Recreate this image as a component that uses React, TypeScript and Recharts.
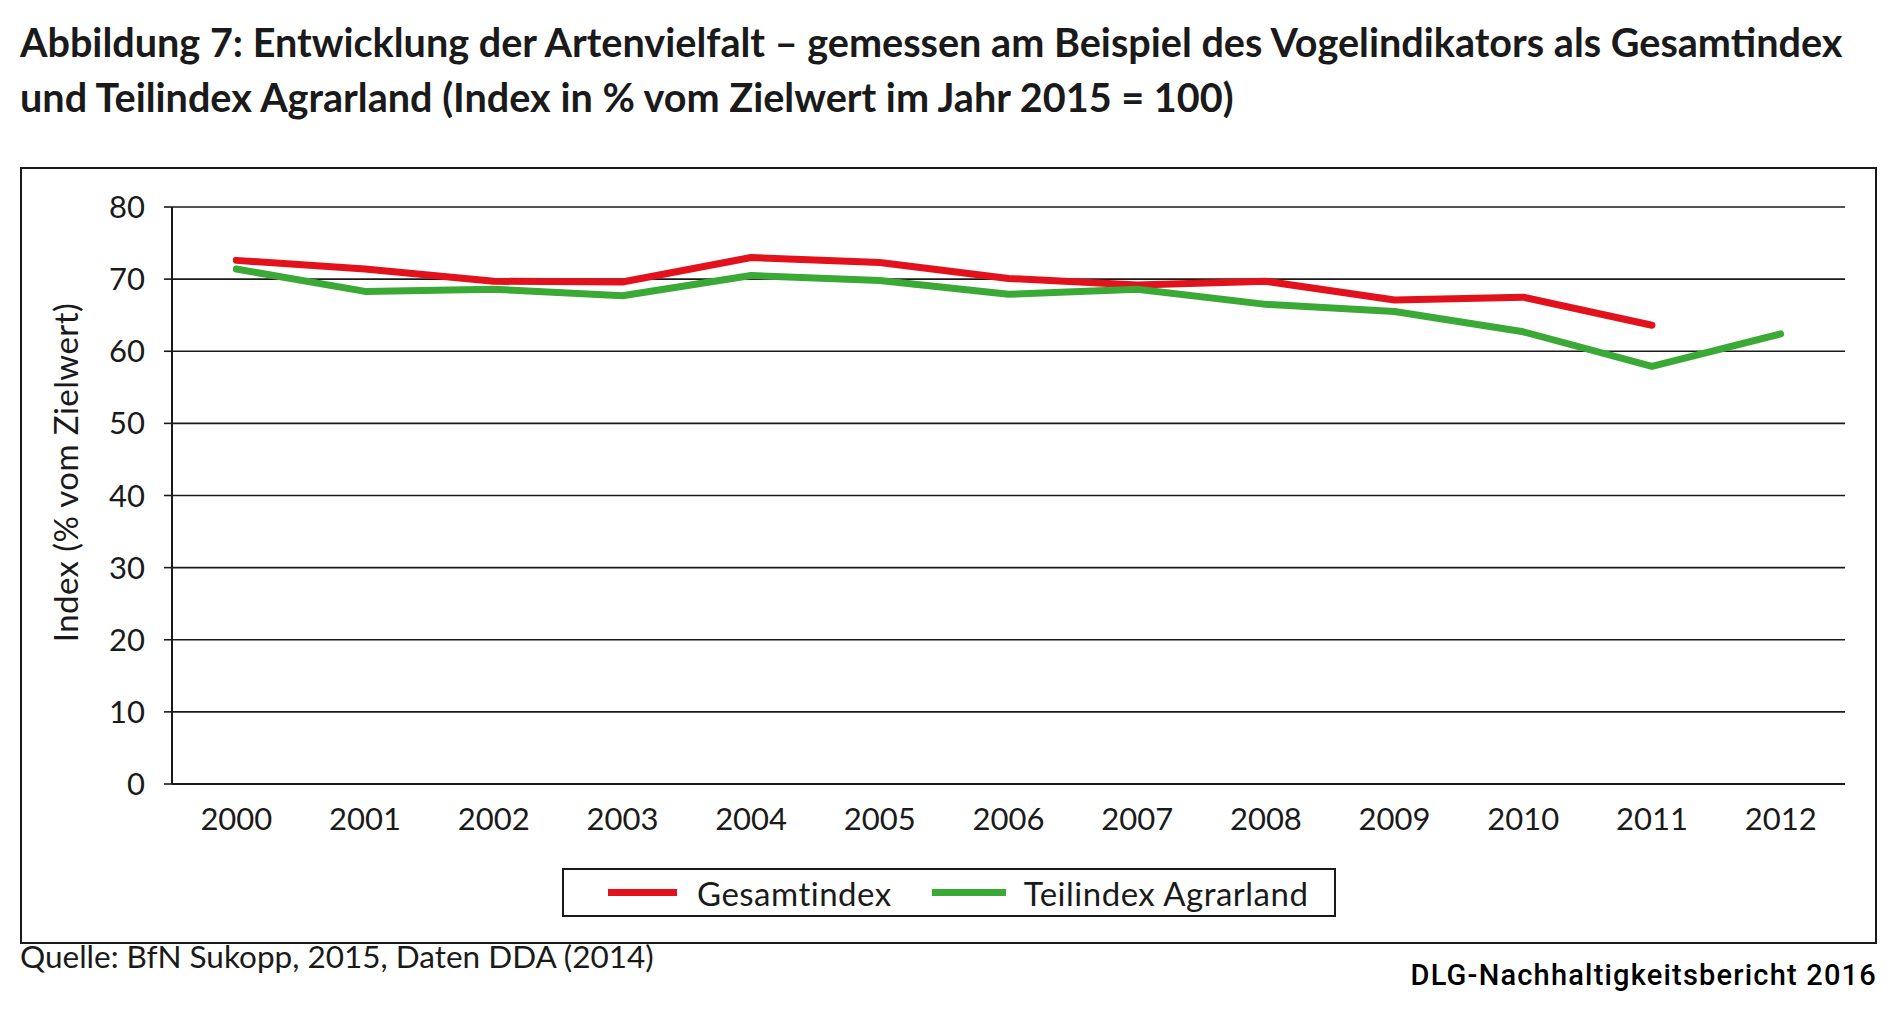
import React from "react";
import {
  LineChart,
  Line,
  XAxis,
  YAxis,
  CartesianGrid,
  Legend,
} from "recharts";

const years = ["2000", "2001", "2002", "2003", "2004", "2005", "2006", "2007", "2008", "2009", "2010", "2011", "2012"];
const gesamtindex = [72.6, 71.4, 69.7, 69.6, 73.0, 72.3, 70.1, 69.2, 69.7, 67.1, 67.5, 63.6, null];
const teilindexAgrarland = [71.4, 68.3, 68.6, 67.7, 70.5, 69.8, 67.9, 68.6, 66.5, 65.5, 62.7, 57.9, 62.4];
const yTicks = [0, 10, 20, 30, 40, 50, 60, 70, 80];
const boundaryTicks = [0, 1, 2, 3, 4, 5, 6, 7, 8, 9, 10, 11, 12, 13];

const data = years.map((year, i) => ({
  year,
  gesamt: gesamtindex[i],
  agrar: teilindexAgrarland[i],
}));

const RED = "#e2111b";
const GREEN = "#3aa935";
const INK = "#1a1a1a";
const tickFont = { fill: INK, fontSize: 31, fontFamily: "Lato, sans-serif", fontWeight: 400 };

const YLabel = ({ viewBox }: any) => {
  const x = viewBox.x + 43;
  const y = viewBox.y + viewBox.height / 2 - 23;
  return (
    <text
      x={x}
      y={y}
      transform={`rotate(-90, ${x}, ${y})`}
      textAnchor="middle"
      dominantBaseline="central"
      fill={INK}
      fontSize={33}
      letterSpacing={0.4}
      fontFamily="Lato, sans-serif"
    >
      Index (% vom Zielwert)
    </text>
  );
};

const LegendBox = () => (
  <div
    style={{
      boxSizing: "border-box",
      width: 774,
      height: 49,
      border: `2px solid ${INK}`,
      display: "flex",
      alignItems: "center",
      paddingLeft: 44,
      fontFamily: "Lato, sans-serif",
      fontSize: 33,
      letterSpacing: 0.5,
      color: INK,
    }}
  >
    <span style={{ width: 69, height: 7, background: RED, display: "inline-block" }} />
    <span style={{ marginLeft: 20 }}>Gesamtindex</span>
    <span style={{ width: 74, height: 7, background: GREEN, display: "inline-block", marginLeft: 40 }} />
    <span style={{ marginLeft: 18 }}>Teilindex Agrarland</span>
  </div>
);

export default function App() {
  return (
    <div style={{ position: "relative", width: 1900, height: 1030, background: "#fff" }}>
      <style>{`body{margin:0}`}</style>
      <div
        style={{
          position: "absolute",
          left: 20,
          top: 14,
          fontFamily: "Lato, sans-serif",
          fontWeight: 700,
          fontSize: 39.6,
          lineHeight: "55px",
          color: INK,
          whiteSpace: "nowrap",
        }}
      >
        Abbildung 7: Entwicklung der Artenvielfalt – gemessen am Beispiel des Vogelindikators als Gesamtindex
        <br />
        und Teilindex Agrarland (Index in % vom Zielwert im Jahr 2015 = 100)
      </div>

      <div
        style={{
          position: "absolute",
          left: 20,
          top: 167,
          width: 1857,
          height: 777,
          boxSizing: "border-box",
          border: `2px solid ${INK}`,
        }}
      >
        <LineChart
          width={1853}
          height={773}
          data={data}
          margin={{ top: 38, right: 30, left: 0, bottom: 25 }}
        >
          <CartesianGrid horizontal vertical={false} stroke={INK} strokeWidth={1.6} yAxisId="l" />
          <XAxis
            xAxisId="b"
            type="number"
            domain={[0, 13]}
            ticks={boundaryTicks}
            tick={false}
            axisLine={false}
            tickLine={{ stroke: INK, strokeWidth: 1.6 }}
            tickSize={10}
            height={0}
          />
          <XAxis
            dataKey="year"
            scale="band"
            tick={tickFont}
            tickLine={false}
            axisLine={{ stroke: INK, strokeWidth: 2 }}
            tickSize={10}
            tickMargin={14}
            height={84}
            interval={0}
          />
          <YAxis
            yAxisId="l"
            domain={[0, 80]}
            ticks={yTicks}
            tick={tickFont}
            tickLine={{ stroke: INK, strokeWidth: 1.6 }}
            axisLine={{ stroke: INK, strokeWidth: 2 }}
            tickSize={8}
            tickMargin={19}
            width={150}
            label={<YLabel />}
          />
          <YAxis
            yAxisId="r"
            orientation="right"
            domain={[0, 80]}
            tick={false}
            tickLine={false}
            axisLine={{ stroke: INK, strokeWidth: 2 }}
            width={0}
          />
          <Legend
            verticalAlign="bottom"
            content={<LegendBox />}
            wrapperStyle={{ left: 540, width: 774, height: 49, bottom: 25 }}
          />
          <Line
            yAxisId="l"
            type="linear"
            dataKey="gesamt"
            name="Gesamtindex"
            stroke={RED}
            strokeWidth={7}
            strokeLinecap="round"
            strokeLinejoin="round"
            dot={false}
            isAnimationActive={false}
          />
          <Line
            yAxisId="l"
            type="linear"
            dataKey="agrar"
            name="Teilindex Agrarland"
            stroke={GREEN}
            strokeWidth={7}
            strokeLinecap="round"
            strokeLinejoin="round"
            dot={false}
            isAnimationActive={false}
          />
        </LineChart>
      </div>

      <div
        style={{
          position: "absolute",
          left: 20,
          top: 937,
          fontFamily: "Lato, sans-serif",
          fontSize: 31.5,
          color: INK,
          whiteSpace: "nowrap",
        }}
      >
        Quelle: BfN Sukopp, 2015, Daten DDA (2014)
      </div>
      <div
        style={{
          position: "absolute",
          right: 23,
          top: 958,
          fontFamily: "Roboto, sans-serif",
          fontWeight: 500,
          fontSize: 29,
          letterSpacing: 1.2,
          color: "#000",
          whiteSpace: "nowrap",
        }}
      >
        DLG-Nachhaltigkeitsbericht 2016
      </div>
    </div>
  );
}
